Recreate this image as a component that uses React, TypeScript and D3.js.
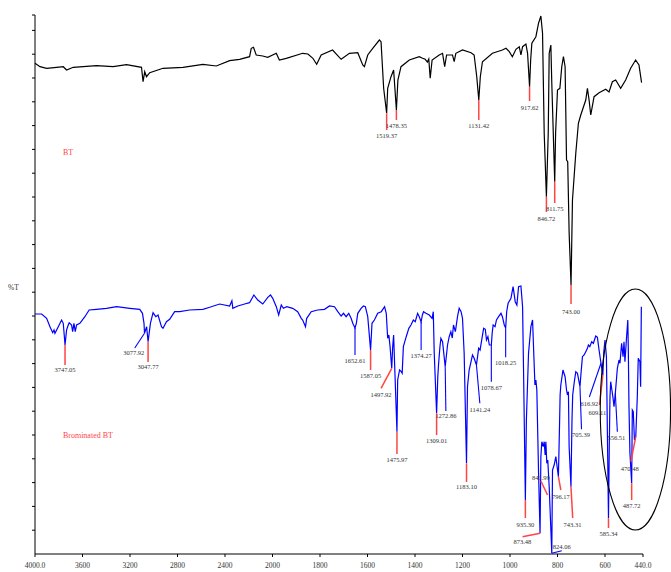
import React from 'react';
import * as d3 from 'd3';

// ---- Data (wavenumber cm-1, %T in arbitrary offset units) ----
const xTickValues = [4000, 3600, 3200, 2800, 2400, 2000, 1800, 1600, 1400, 1200, 1000, 800, 600, 440];

const btSpectrum: [number, number][] = [
  [4000,495.7],[3958,492.3],[3902,490.7],[3818,491.7],[3762,492.3],[3734,489],[3678,491.7],[3482,493.3],[3342,492.3],[3229,494.3],
  [3103,491.7],[3090,477.3],[3076,487.3],[3061,482.3],[3034,486.3],[2922,490.7],[2754,491.7],[2586,494.7],[2473,493],[2361,498.3],
  [2277,499.7],[2193,502.3],[2179,510.7],[2160,511.7],[2137,504],[2082,503],[2040,501.7],[1984,505.7],[1971,499],[1942,500.7],
  [1873,505.7],[1851,505],[1830,500.7],[1814,494.7],[1795,504],[1747,509],[1711,499.7],[1676,505.7],[1641,506.3],[1620,494],
  [1613,492.3],[1599,504],[1578,510.7],[1550,519],[1543,517.3],[1532,470.7],[1519.37,445.7],[1515,470.7],[1501,482.3],[1490,489],
  [1478.35,449],[1472,479],[1459,492.3],[1424,499],[1382,502.3],[1368,500.7],[1357,499.7],[1348,497],[1342,500],[1336,480.7],
  [1328,499],[1298,504],[1284,505.7],[1275,492.3],[1267,504],[1242,504],[1235,497.3],[1228,505.7],[1200,509],[1164,506.3],
  [1151,504],[1140,482.3],[1131.42,459],[1125,482.3],[1116,497.3],[1074,505.7],[1032,509],[1017,510.7],[1003,507.3],[990,502.3],
  [975,509.7],[961,512.3],[954,504],[947,512.3],[933,515],[926,505.7],[917.62,472.3],[913,499],[908,515.7],[891,522.3],
  [880,535.7],[870,543],[863,525.7],[856,426],[846.72,362.3],[839,426],[835,505.7],[828,514],[824,475.7],[811.75,377.3],
  [808,426],[800,469],[790,470.7],[782,492.3],[775,502.3],[768,492.3],[762,399],[757,397.3],[751,326],[743,274],
  [737,359],[723,405.7],[712,435.7],[702,444],[681,459],[674,470.7],[667,459],[660,444],[646,462.3],[625,466.3],
  [597,469.7],[583,467],[569,477.3],[555,479],[534,470.7],[513,479],[492,490.7],[471,499],[457,494],[446,476.3]
];

const bromSpectrum: [number, number][] = [
  [4000,245],[3944,245],[3902,240.7],[3874,232.3],[3851,226.3],[3840,229],[3832,225.7],[3804,232.3],[3776,239],[3762,235.7],
  [3747.05,214],[3734,229],[3720,234],[3712,236.3],[3692,234],[3683,227.3],[3672,235.7],[3661,227.3],[3650,234],[3622,235.7],
  [3580,242.3],[3544,249],[3482,249.7],[3398,250.7],[3313,252.3],[3202,250.7],[3118,249.7],[3095,245.7],[3082,235.7],[3077.92,225.7],
  [3060,232.3],[3047.77,217.3],[3028,235.7],[3006,246.3],[2983,242.3],[2964,244],[2935,232.3],[2922,230.7],[2893,237.3],[2866,239.7],
  [2824,247.3],[2782,247.3],[2698,249],[2586,249.7],[2529,251.7],[2445,255],[2361,253],[2342,258.3],[2334,250.7],[2292,253],
  [2235,255],[2193,256.3],[2157,264],[2124,259],[2082,255],[2040,261.7],[2017,264],[1999,260.7],[1984,252.3],[1974,244],
  [1963,254],[1954,250.7],[1940,252.3],[1915,250.7],[1894,247.3],[1879,240.7],[1873,239],[1861,232.3],[1856,240.7],[1837,247.3],
  [1810,249],[1781,249.7],[1760,253],[1739,252.3],[1725,247.3],[1711,243],[1701,245.7],[1690,242.3],[1679,245.7],[1669,240.7],
  [1662,235.7],[1652.61,231],[1647,235.7],[1641,245.7],[1627,250.7],[1617,253],[1609,252.3],[1599,242.3],[1587.05,209],[1581,235.7],
  [1571,239],[1557,245.7],[1542,247.3],[1528,252.3],[1521,245.7],[1515,220.7],[1510,224],[1505,212.3],[1497.92,190.7],[1494,212.3],
  [1490,224],[1475.97,127.3],[1473,179],[1465,189],[1458,187.3],[1454,185.7],[1449,212.3],[1437,222.3],[1426,230.7],[1417,234],
  [1407,239],[1399,237.3],[1389,245.7],[1382,242.3],[1374.27,237],[1369,244],[1364,247.3],[1354,245.7],[1340,244],[1328,240.7],
  [1323,247.3],[1319,205.7],[1309.01,145.7],[1304,182.3],[1301,194],[1295,212.3],[1291,220.7],[1284,217.3],[1272.86,192.3],[1263,214],
  [1256,222.3],[1249,227.3],[1243,221],[1238,234],[1230,227.3],[1221,242.3],[1214,250.7],[1206,247.3],[1200,240.7],[1193,205.7],
  [1183.1,95.7],[1179,172.3],[1172,189],[1164,197.3],[1158,204],[1151,200.7],[1141.24,194],[1132,210.7],[1126,209],[1118,220.7],
  [1111,230.7],[1104,229.7],[1099,219],[1093,222.3],[1087,214],[1078.67,214],[1075,226],[1071,234],[1063,232.3],[1057,239],
  [1048,242.3],[1038,245.7],[1032,242.3],[1024,234],[1018.25,231],[1014,247.3],[1008,255.7],[996,260.7],[987,272.3],[978,257.3],
  [971,254],[964,272.3],[954,273],[947,252.3],[943,189],[935.3,59],[931,139],[922,205.7],[912,232.3],[905,239],
  [900,205.7],[895,174],[891,179],[887,169],[880,89],[873.48,25.7],[870,102.3],[866,117.3],[860,112.3],[856,117.3],
  [852,104],[849,117.3],[845,95.7],[841,99],[835,72.3],[824.06,5.7],[821,89],[814,94],[807,102.3],[796.17,82.3],
  [791,139],[789,164],[786,174],[777,189],[768,182.3],[762,169],[758,164],[754,167.3],[751,112.3],[743.31,72.3],
  [739,139],[736,164],[730,175.7],[723,187.3],[716,185.7],[705.39,172.3],[701,185.7],[695,202.3],[688,204],[681,207.3],
  [674,210.7],[670,214],[664,212.3],[656,217.3],[649,215.7],[639,223],[632,221.7],[625,209],[616.92,195.7],[609.11,184],
  [605,207.3],[600,219],[594,202.3],[585.34,40.7],[582,112.3],[579,162.3],[576,177.3],[571,169],[566,160.7],[562,152.3],
  [556.51,165.7],[552,179],[548,190.7],[541,199],[537,195.7],[530,215.7],[524,202.3],[520,217.3],[516,197.3],[510,219],
  [504,239],[502,212.3],[499,152.3],[495,105.7],[487.72,75.7],[485,149],[481,147.3],[476,119],[470.48,122.3],[464,162.3],
  [460,200.7],[453,197.3],[450,172.3],[447,252.3]
];

// BT peak picks: [wavenumber, curve value, leader end value, label value]
const btPeaks: [number, number, number, number][] = [
  [1519.37, 445.7, 429, 423],
  [1478.35, 449, 439, 433],
  [1131.42, 459, 439, 433],
  [917.62, 472.3, 458, 451],
  [846.72, 362.3, 347, 340],
  [811.75, 377.3, 356, 350],
  [743.0, 274, 255, 247],
];

// Brominated BT peak picks: [wavenumber, curve value, leader end wn, leader end value, label wn, label value, leader colour key]
const bromPeaks: [number, number, number, number, number, number, string][] = [
  [3747.05, 214, 3747.05, 194, 3747.05, 189, 'r'],
  [3077.92, 225.7, 3160, 211, 3168, 206.3, 'b'],
  [3047.77, 217.3, 3047.77, 197, 3047.77, 192.3, 'r'],
  [1652.61, 231, 1652.61, 204, 1652.61, 198.5, 'b'],
  [1587.05, 209, 1587.05, 189, 1587.05, 183.3, 'r'],
  [1497.92, 190.7, 1543, 170.7, 1543, 164.7, 'r'],
  [1475.97, 127.3, 1475.97, 105, 1475.97, 99.7, 'r'],
  [1374.27, 237, 1374.27, 209, 1374.27, 203.5, 'b'],
  [1309.01, 145.7, 1309.01, 124, 1309.01, 118.3, 'r'],
  [1272.86, 192.3, 1270, 148, 1270, 143, 'b'],
  [1183.10, 95.7, 1183.10, 77, 1183.10, 72, 'r'],
  [1141.24, 194, 1127, 155.7, 1127, 149.7, 'b'],
  [1078.67, 214, 1078.67, 177.3, 1078.67, 171.7, 'b'],
  [1018.25, 231, 1018.25, 201.7, 1018.25, 196, 'b'],
  [935.30, 59, 935.30, 41, 935.30, 34, 'r'],
  [873.48, 25.7, 947, 22.3, 948, 17.3, 'r'],
  [841.99, 64, 870, 78, 870, 81.7, 'r'],
  [796.17, 82.3, 786, 69, 786, 62.3, 'r'],
  [824.06, 5.7, 782, 8.3, 782, 12, 'b'],
  [743.31, 72.3, 736, 41, 737, 34.7, 'r'],
  [705.39, 172.3, 699, 129.7, 701, 124, 'b'],
  [616.92, 195.7, 666, 162, 666, 155, 'b'],
  [609.11, 184, 623, 154, 632, 146.7, 'r'],
  [585.34, 40.7, 585.34, 31, 585.34, 25, 'r'],
  [556.51, 165.7, 548, 127.3, 552, 121, 'b'],
  [470.48, 122.3, 491, 97.3, 496, 90.7, 'r'],
  [487.72, 75.7, 487.72, 59, 487.72, 53.3, 'r'],
];

// Highlight ellipse extent (wn left/centre, value bottom/top)
const ellipseWn = [620, 472];
const ellipseV = [29, 270];

const seriesNames = ['BT', 'Brominated BT'];
const seriesLabelPos: [number, number][] = [[3765, 407], [3765, 124]];

// ---- Scales ----
const x = d3.scaleLinear().domain([4000, 2000, 440]).range([35, 272.5, 643]);
const y = d3.scaleLinear().domain([5, 544]).range([554, 15]);

const RED = '#ff4444';
const BLUE = '#0000ff';
const TXT = '#333';

const fmtTick = (v: number) => (v === 4000 || v === 440 ? v.toFixed(1) : String(v));

export default function App() {
  const line = d3.line<[number, number]>().x(d => x(d[0])).y(d => y(d[1]));
  const yTicks = d3.range(1, 23).map(k => 5 + k * 23.8).concat([544]);
  const y0 = y(5);
  const ecx = x(ellipseWn[1]);
  const erx = x(ellipseWn[1]) - x(ellipseWn[0]);
  const ecy = y((ellipseV[0] + ellipseV[1]) / 2);
  const ery = (y(ellipseV[0]) - y(ellipseV[1])) / 2;

  return (
    <svg width={671} height={572} style={{ position: 'absolute', left: 0, top: 0, background: '#fff' }}
      fontFamily="'Liberation Serif', 'Times New Roman', serif">
      {/* axes */}
      <line x1={x(4000)} x2={x(4000)} y1={y(544)} y2={y0} stroke="#000" strokeWidth={1} />
      <line x1={x(4000)} x2={x(440)} y1={y0} y2={y0} stroke="#000" strokeWidth={1} />
      {yTicks.map((t, i) => (
        <line key={'yt' + i} x1={x(4000) - 3} x2={x(4000)} y1={y(t)} y2={y(t)} stroke="#000" />
      ))}
      {xTickValues.map(t => (
        <g key={'xt' + t}>
          <line x1={x(t)} x2={x(t)} y1={y0} y2={y0 + 3} stroke="#000" />
          <text x={x(t)} y={y0 + 14} textAnchor="middle" fontSize={7.5} fill={TXT}>{fmtTick(t)}</text>
        </g>
      ))}
      <text x={8} y={y(269)} fontSize={7.5} fill={TXT}>%T</text>

      {/* spectra */}
      <path d={line(btSpectrum) || ''} fill="none" stroke="#000" strokeWidth={1.2} />
      <path d={line(bromSpectrum) || ''} fill="none" stroke={BLUE} strokeWidth={1.2} />

      {/* BT peak picks */}
      {btPeaks.map(p => (
        <g key={'bp' + p[0]}>
          <line x1={x(p[0])} x2={x(p[0])} y1={y(p[1])} y2={y(p[2])} stroke={RED} strokeWidth={1.5} />
          <text x={x(p[0])} y={y(p[3])} dy="0.35em" textAnchor="middle" fontSize={6.5} fill={TXT}>{p[0].toFixed(2)}</text>
        </g>
      ))}

      {/* Brominated BT peak picks */}
      {bromPeaks.map(p => (
        <g key={'rp' + p[0]}>
          <line x1={x(p[0])} x2={x(p[2])} y1={y(p[1])} y2={y(p[3])} stroke={p[6] === 'r' ? RED : BLUE}
            strokeWidth={p[6] === 'r' ? 1.5 : 1.1} />
          <text x={x(p[4])} y={y(p[5])} dy="0.35em" textAnchor="middle" fontSize={6.5} fill={TXT}>{p[0].toFixed(2)}</text>
        </g>
      ))}

      {/* series names */}
      {seriesNames.map((n, i) => (
        <text key={n} x={x(seriesLabelPos[i][0])} y={y(seriesLabelPos[i][1])} dy="0.35em" fontSize={8} fill={RED}>{n}</text>
      ))}

      {/* highlight ellipse */}
      <ellipse cx={ecx} cy={ecy} rx={erx} ry={ery} fill="none" stroke="#000" strokeWidth={1.1} />
    </svg>
  );
}
